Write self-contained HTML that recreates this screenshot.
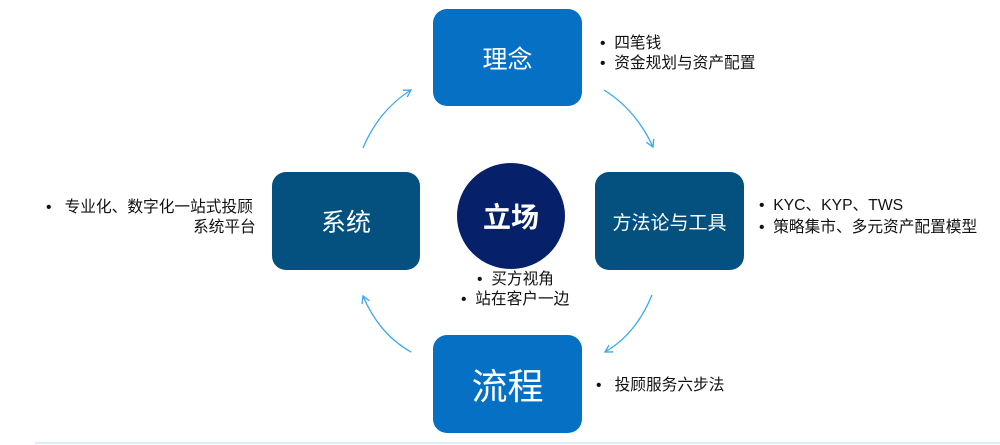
<!DOCTYPE html>
<html><head><meta charset="utf-8"><style>
body{margin:0;width:1000px;height:445px;background:#fff;position:relative;overflow:hidden;font-family:"Liberation Sans","Noto Sans CJK SC",sans-serif;}
.box{position:absolute;border-radius:14px;color:#fff;display:flex;align-items:center;justify-content:center;}
.t{position:absolute;font-size:15.7px;color:#111;white-space:nowrap;line-height:20px;}
</style></head><body>
<svg width="1000" height="445" style="position:absolute;left:0;top:0">
<defs><marker id="a" markerWidth="10" markerHeight="10" refX="8" refY="5" orient="auto" markerUnits="userSpaceOnUse"><path d="M1,1 L8,5 L1,9" fill="none" stroke="#3aa8f0" stroke-width="1.3"/></marker></defs>
<g fill="none" stroke="#3aa8f0" stroke-width="1.3">
<path d="M363,148 Q379,110 411,90" marker-end="url(#a)"/>
<path d="M604,90 Q636,110 653,147" marker-end="url(#a)"/>
<path d="M652,295 Q636,334 605,352" marker-end="url(#a)"/>
<path d="M411,352 Q379,334 363,296" marker-end="url(#a)"/>
</g>
<line x1="35" y1="443" x2="1000" y2="443" stroke="#dbeef8" stroke-width="2"/>
</svg>
<div class="box" style="left:433px;top:9px;width:149px;height:97px;background:#0570c4;font-size:25px;">理念</div>
<div class="box" style="left:272px;top:172px;width:148px;height:98px;background:#04507f;font-size:25px;">系统</div>
<div class="box" style="left:595px;top:172px;width:149px;height:98px;background:#04507f;font-size:19px;">方法论与工具</div>
<div class="box" style="left:433px;top:335px;width:149px;height:98px;background:#0570c4;font-size:36px;">流程</div>
<div class="box" style="left:457px;top:163px;width:108px;height:106px;border-radius:50%;background:#06206a;font-size:28px;font-weight:bold;">立场</div>
<div class="t" style="left:600px;top:34px;">•&nbsp;&nbsp;四笔钱</div>
<div class="t" style="left:600px;top:54px;">•&nbsp;&nbsp;资金规划与资产配置</div>
<div class="t" style="left:46px;top:198px;">•&nbsp;&nbsp;&nbsp;专业化、数字化一站式投顾</div>
<div class="t" style="left:193px;top:218px;">系统平台</div>
<div class="t" style="left:759px;top:196px;">•&nbsp;&nbsp;KYC、KYP、TWS</div>
<div class="t" style="left:759px;top:218px;">•&nbsp;&nbsp;策略集市、多元资产配置模型</div>
<div class="t" style="left:477px;top:270px;">•&nbsp;&nbsp;买方视角</div>
<div class="t" style="left:461px;top:290px;">•&nbsp;&nbsp;站在客户一边</div>
<div class="t" style="left:596px;top:376px;">•&nbsp;&nbsp;&nbsp;投顾服务六步法</div>
</body></html>
